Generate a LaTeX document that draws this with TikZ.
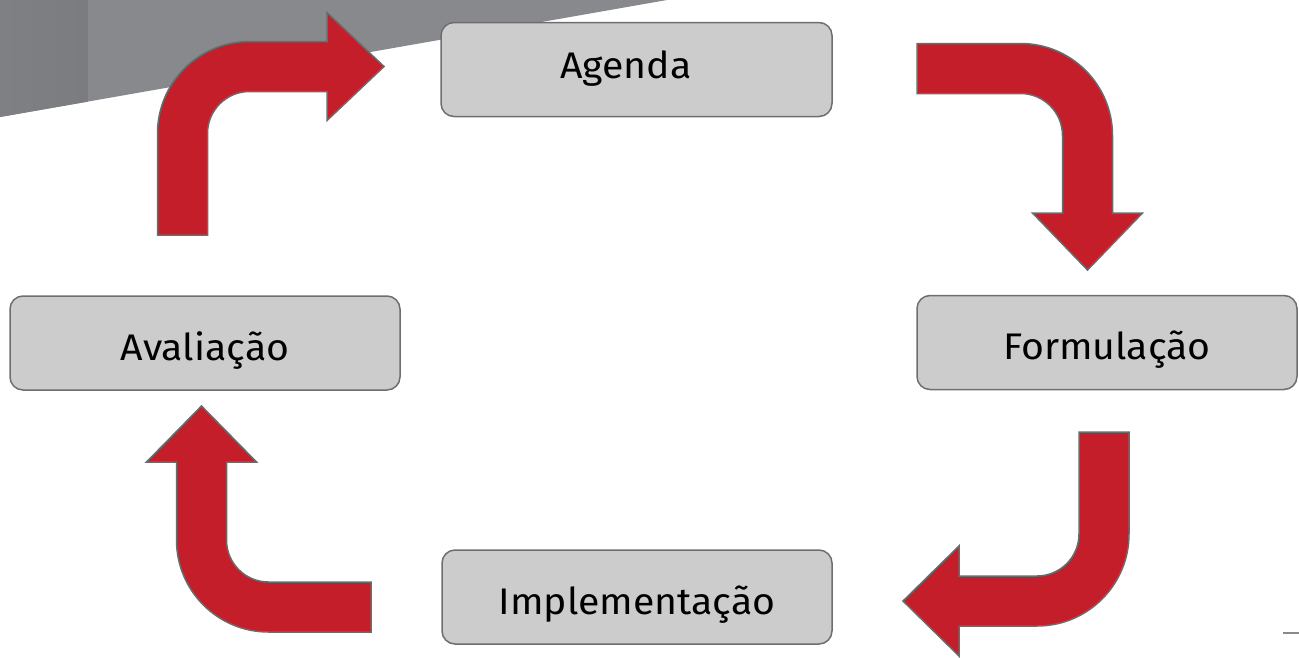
\documentclass[tikz,border=0pt]{standalone}
\usepackage{fontspec}
\setmainfont{Fira Sans}
\newfontfamily\labelfont[FakeStretch=1.06]{Fira Sans}
\definecolor{arrowred}{HTML}{C41E2A}
\definecolor{arrowline}{HTML}{6B6B6B}
\definecolor{boxfill}{HTML}{CCCCCC}
\definecolor{boxline}{HTML}{6E6E6E}
\definecolor{bandgrey}{HTML}{87898C}
\definecolor{bandstrip}{HTML}{7A7C7F}
\definecolor{bandstripl}{HTML}{7E8083}
\definecolor{tickgrey}{HTML}{8A8A8A}
\begin{document}
\begin{tikzpicture}[x=1pt,y=-1pt,
  stagebox/.style={draw=boxline, fill=boxfill, line width=1.5pt, rounded corners=13pt,
    font=\labelfont\fontsize{37}{40}\selectfont, text=black, inner sep=0pt,
    text height=34pt, text depth=0pt, minimum height=94pt},
  redarrow/.style={fill=arrowred, draw=arrowline, line width=1.5pt, line join=miter}]
\useasboundingbox (0,0) rectangle (1299,657);
% grey band top-left
\fill[bandgrey] (0,0) -- (667,0) -- (0,117) -- cycle;
\shade[left color=bandstripl, right color=bandstrip] (0,0) -- (88,0) -- (88,101.6) -- (0,117) -- cycle;
% boxes
\node[stagebox, minimum width=391pt, text height=17pt] (agenda) at (636.5,69.5) {Agenda\hspace*{21pt}};
\node[stagebox, minimum width=380pt] (formulacao) at (1107,342.5) {Formulação};
\node[stagebox, minimum width=390pt] (avaliacao) at (205,343) {Avaliação};
\node[stagebox, minimum width=390pt] (implementacao) at (637,597) {Implementação};
% arrow 1: Avaliação -> Agenda
\draw[redarrow] (157.5,235) -- (157.5,133.5) arc[start angle=180,end angle=270,radius=92]
  -- (327,41.5) -- (327,12.5) -- (384,66.5) -- (327,120.5) -- (327,91.5) -- (249.5,91.5)
  arc[start angle=270,end angle=180,radius=42] -- (207.5,235) -- cycle;
% arrow 2: Agenda -> Formulação
\draw[redarrow] (917,43.5) -- (1020.5,43.5) arc[start angle=270,end angle=360,radius=92]
  -- (1112.5,213) -- (1142.5,213) -- (1087.5,270) -- (1032.5,213) -- (1062.5,213) -- (1062.5,135.5)
  arc[start angle=0,end angle=-90,radius=42] -- (917,93.5) -- cycle;
% arrow 3: Formulação -> Implementação
\draw[redarrow] (1079,432) -- (1129,432) -- (1129,534) arc[start angle=0,end angle=90,radius=92]
  -- (959,626) -- (959,656) -- (903,601) -- (959,546) -- (959,576) -- (1037,576)
  arc[start angle=90,end angle=0,radius=42] -- cycle;
% arrow 4: Implementação -> Avaliação
\draw[redarrow] (371,582) -- (371,632) -- (268.5,632) arc[start angle=90,end angle=180,radius=92]
  -- (176.5,462) -- (146.5,462) -- (201.5,406) -- (256.5,462) -- (226.5,462) -- (226.5,540)
  arc[start angle=180,end angle=90,radius=42] -- cycle;
% small tick bottom right
\draw[tickgrey, line width=2pt] (1283,633) -- (1299,633);
\end{tikzpicture}
\end{document}
